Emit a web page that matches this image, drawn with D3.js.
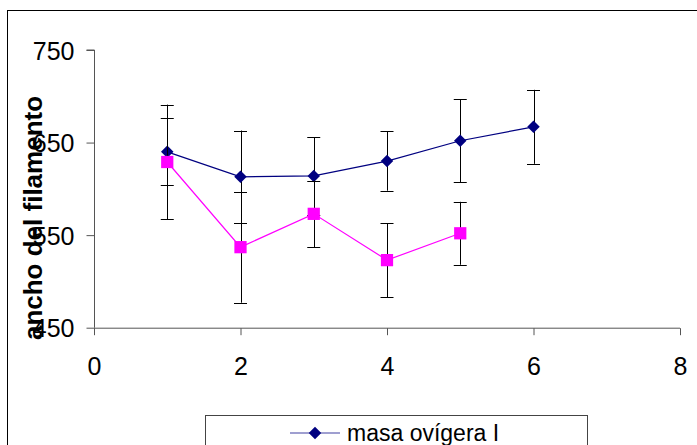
<!DOCTYPE html>
<html>
<head>
<meta charset="utf-8">
<script src="https://cdnjs.cloudflare.com/ajax/libs/d3/7.8.5/d3.min.js"></script>
<style>
    body { margin: 0; background: #fff; }
    svg { display: block; font-family: Arial, "Liberation Sans", sans-serif; }
</style>
</head>
<body>
<div class="chart"></div>
<script>
// values
var xTicks = [0, 2, 4, 6, 8];
var yTicks = [450, 550, 650, 750];

var masaX = [1, 2, 3, 4, 5, 6];
var masaY = [640, 613, 614, 630, 652, 667];
var masaErr = [36, 50, 42, 32, 45, 40];

var otraX = [1, 2, 3, 4, 5];
var otraY = [629, 537, 573, 523, 552];
var otraErr = [62, 60, 36, 40, 34];

var legendLabel = 'masa ovígera I';
var yTitle = 'ancho del filamento';

var width = 697;
var height = 445;

var svg = d3.select('.chart')
    .append('svg:svg')
    .attr('width', width)
    .attr('height', height);

// chart frame, runs off the right and bottom edges
svg.append('svg:rect')
    .attr('x', 7.5)
    .attr('y', 10.5)
    .attr('width', 720)
    .attr('height', 470)
    .attr('fill', 'white')
    .attr('stroke', 'black');

var x = d3.scaleLinear().domain([0, 8]).range([94, 680]);
var y = d3.scaleLinear().domain([450, 750]).range([327.7, 50]);

var axisColor = '#555';

// y axis
var yAxis = svg.append('g')
    .attr('transform', 'translate(94.5,0)')
    .call(d3.axisLeft(y).tickValues(yTicks).tickSize(8).tickPadding(12));
yAxis.select('.domain').attr('stroke', axisColor).attr('d', 'M-8,' + y(750) + 'H0V' + y(450));
yAxis.selectAll('.tick line').attr('stroke', axisColor);
yAxis.selectAll('.tick text')
    .attr('fill', 'black')
    .style('font-size', '25px')
    .attr('dy', '0.36em');

// x axis
var xAxis = svg.append('g')
    .attr('transform', 'translate(0,' + (y(450) + 0.5) + ')')
    .call(d3.axisBottom(x).tickValues(xTicks).tickSize(7).tickPadding(22));
xAxis.select('.domain').attr('stroke', axisColor).attr('d', 'M' + x(0) + ',0H' + x(8));
xAxis.selectAll('.tick line').attr('stroke', axisColor);
xAxis.selectAll('.tick text')
    .attr('fill', 'black')
    .style('font-size', '25px');

// y title, bold and rotated
svg.append('text')
    .attr('transform', 'translate(42,218) rotate(-90)')
    .attr('text-anchor', 'middle')
    .style('font-size', '26px')
    .style('font-weight', 'bold')
    .text(yTitle);

var diamond = d3.symbol().type(d3.symbolDiamond2).size(100);
var square = d3.symbol().type(d3.symbolSquare).size(150);

// draws one series: error bars, line, markers
function drawSeries(xs, ys, errs, color, symbol) {
    var pts = xs.map(function (d, i) { return [d, ys[i], errs[i]]; });
    var g = svg.append('g');

    var bars = g.selectAll('.err').data(pts).enter().append('g')
        .attr('stroke', 'black')
        .attr('stroke-width', 1);
    bars.append('line')
        .attr('x1', function (d) { return Math.round(x(d[0])) + 0.5; })
        .attr('x2', function (d) { return Math.round(x(d[0])) + 0.5; })
        .attr('y1', function (d) { return y(d[1] + d[2]); })
        .attr('y2', function (d) { return y(d[1] - d[2]); });
    [1, -1].forEach(function (s) {
        bars.append('line')
            .attr('x1', function (d) { return x(d[0]) - 6.5; })
            .attr('x2', function (d) { return x(d[0]) + 6.5; })
            .attr('y1', function (d) { return Math.round(y(d[1] + s * d[2])) + 0.5; })
            .attr('y2', function (d) { return Math.round(y(d[1] + s * d[2])) + 0.5; });
    });

    g.append('path')
        .datum(pts)
        .attr('fill', 'none')
        .attr('stroke', color)
        .attr('stroke-width', 1.2)
        .attr('d', d3.line()
            .x(function (d) { return x(d[0]); })
            .y(function (d) { return y(d[1]); }));

    g.selectAll('.mark').data(pts).enter().append('path')
        .attr('transform', function (d) { return 'translate(' + x(d[0]) + ',' + y(d[1]) + ')'; })
        .attr('d', symbol)
        .attr('fill', color);
}

drawSeries(masaX, masaY, masaErr, '#000080', diamond);
drawSeries(otraX, otraY, otraErr, '#ff00ff', square);

// legend, cut off by the bottom edge
var legend = svg.append('g');
legend.append('rect')
    .attr('x', 205.5)
    .attr('y', 415.5)
    .attr('width', 382)
    .attr('height', 60)
    .attr('fill', 'white')
    .attr('stroke', '#444');
legend.append('line')
    .attr('x1', 290)
    .attr('x2', 340)
    .attr('y1', 433)
    .attr('y2', 433)
    .attr('stroke', '#7f7fc0')
    .attr('stroke-width', 1.5);
legend.append('path')
    .attr('transform', 'translate(315,433)')
    .attr('d', diamond)
    .attr('fill', '#000080');
legend.append('text')
    .attr('x', 347)
    .attr('y', 441)
    .style('font-size', '23px')
    .text(legendLabel);
</script>
</body>
</html>
